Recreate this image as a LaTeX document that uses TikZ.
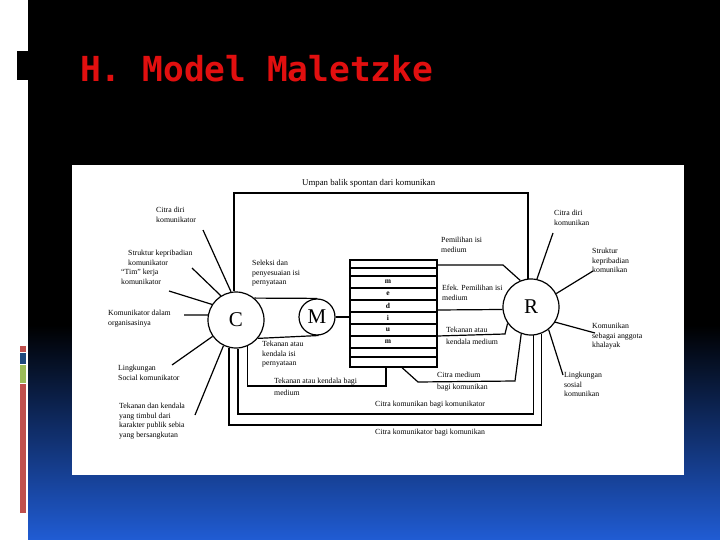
\documentclass[tikz,border=0pt]{standalone}
\usepackage{fontspec}
\setmainfont{Liberation Serif}
\newfontfamily\titlefont{DejaVu Sans Mono}
\definecolor{bgblue}{RGB}{32,92,212}
\definecolor{titlered}{RGB}{225,15,15}
\definecolor{barred}{RGB}{192,80,77}
\definecolor{barblue}{RGB}{31,73,125}
\definecolor{bargreen}{RGB}{155,187,89}
\begin{document}
\begin{tikzpicture}[x=1pt,y=-1pt,
  ln/.style={line width=1.2pt, line join=miter},
  lbl/.style={font=\fontsize{7.8}{9.5}\selectfont, align=left, inner sep=0pt, anchor=north west},
  lblw/.style={font=\fontsize{7.8}{9.5}\selectfont, align=left, inner sep=0pt, anchor=west},
  circ/.style={circle, draw, line width=1.2pt, fill=white, font=\fontsize{21}{21}\selectfont, inner sep=0pt},
  letter/.style={font=\fontsize{7.5}{7.5}\selectfont\bfseries, inner sep=0pt}
]
\useasboundingbox (0,0) rectangle (720,540);
% background
\fill[white] (0,0) rectangle (720,540);
\fill[black] (28,0) rectangle (720,326);
\shade[top color=black, bottom color=bgblue] (28,325) rectangle (720,540);
\fill[black] (17,51) rectangle (28,80);
\fill[barred] (20,346) rectangle (26,352);
\fill[barblue] (20,353) rectangle (26,364);
\fill[bargreen] (20,365) rectangle (26,383);
\fill[barred] (20,384) rectangle (26,513);
% title
\node[anchor=base west, text=titlered, font=\titlefont\bfseries\fontsize{34.5}{34.5}\selectfont, inner sep=0pt] (title) at (80,82) {H. Model Maletzke};
% panel
\fill[white] (72,165) rectangle (684,475);

% main nodes
\node[circ, minimum size=56pt] (C) at (236,320) {C};
\node[circ, minimum size=36pt] (M) at (317,317) {M};
\node[circ, minimum size=56pt] (R) at (531,307) {R};
\node[draw, line width=1.2pt, minimum width=87pt, minimum height=107pt, inner sep=0pt] (med) at (393.5,313.5) {};
\foreach \yy in {268,276,288,300,312,324,336,348,357}
  \draw[ln] (med.west |- 0,\yy) -- (med.east |- 0,\yy);
\foreach \l/\yy/\nm in {m/282/l1, e/294/l2, d/306/l3, i/318/l4, u/330/l5, m/342/l6}
  \node[letter] (\nm) at (388,\yy) {\l};

% coordinates
\coordinate (fb) at (400,193);
\coordinate (pm) at (503,265);
\coordinate (tk) at (505,334);
\coordinate (tb) at (300,386);
\coordinate (cm1) at (418,382);
\coordinate (cm2) at (515,381);
\coordinate (lp1) at (400,414);
\coordinate (lp2) at (400,425);
\coordinate (sp1) at (203,230);
\coordinate (sp2) at (192,268);
\coordinate (sp3) at (169,291);
\coordinate (sp4) at (184,315);
\coordinate (sp5) at (172,365);
\coordinate (sp6) at (195,415);
\coordinate (rs1) at (553,233);
\coordinate (rs2) at (593,271);
\coordinate (rs3) at (595,333);
\coordinate (rs4) at (563,375);

% connectors
\draw[ln] (M.east) -- (med.west |- M.east);
\draw[ln] (C.50) -- (M.north);
\draw[ln] (C.-40) -- (M.-85);
\draw[ln] (C.94) |- (fb) -| (R.96);
\draw[ln] (med.east |- pm) -- (pm) -- (R.112);
\draw[ln] (med.east |- 0,310) -- (R.185);
\draw[ln] (med.east |- 0,336) -- (tk) -- (R.215);
\draw[ln] (C.293) |- (tb) -| (med.south -| 386,0);
\draw[ln] (med.south -| 402,0) -- (cm1) -- (cm2) -- (R.250);
\draw[ln] (C.274) |- (lp1) -| (R.275);
\draw[ln] (C.256) |- (lp2) -| (R.292);
\draw[ln] (sp1) -- (C.100);
\draw[ln] (sp2) -- (C.122);
\draw[ln] (sp3) -- (C.147);
\draw[ln] (sp4) -- (C.170);
\draw[ln] (sp5) -- (C.215);
\draw[ln] (sp6) -- (C.244);
\draw[ln] (rs1) -- (R.78);
\draw[ln] (rs2) -- (R.28);
\draw[ln] (rs3) -- (R.328);
\draw[ln] (rs4) -- (R.308);

% labels
\node[lblw, font=\fontsize{8.8}{10}\selectfont] (t0) at (302,183) {Umpan balik spontan dari komunikan};
\node[lbl] (t1) at (156,207) {Citra diri\\komunikator};
\node[lbl] (t2) at (128,250) {Struktur kepribadian\\komunikator};
\node[lbl] (t3) at (121,269) {“Tim” kerja\\komunikator};
\node[lbl] (t4) at (108,310) {Komunikator dalam\\organisasinya};
\node[lbl] (t5) at (118,365) {Lingkungan\\Social komunikator};
\node[lbl] (t6) at (119,403) {Tekanan dan kendala\\yang timbul dari\\karakter publik sebia\\yang bersangkutan};
\node[lbl] (t7) at (252,260) {Seleksi dan\\penyesuaian isi\\pernyataan};
\node[lbl] (t8) at (262,341) {Tekanan atau\\kendala isi\\pernyataan};
\node[lblw, font=\fontsize{7.8}{11.5}\selectfont] (t9) at (274,387) {Tekanan atau kendala bagi\\medium};
\node[lblw, font=\fontsize{7.8}{12}\selectfont] (t10) at (437,382) {Citra medium\\bagi komunikan};
\node[lblw] (t11) at (375,405) {Citra komunikan bagi komunikator};
\node[lblw] (t12) at (375,433) {Citra komunikator bagi komunikan};
\node[lbl] (t13) at (441,237) {Pemilihan isi\\medium};
\node[lbl] (t14) at (442,285) {Efek. Pemilihan isi\\medium};
\node[lblw, font=\fontsize{7.8}{12}\selectfont] (t15) at (446,336) {Tekanan atau\\kendala medium};
\node[lbl] (t16) at (554,210) {Citra diri\\komunikan};
\node[lbl] (t17) at (592,248) {Struktur\\kepribadian\\komunikan};
\node[lbl] (t18) at (592,323) {Komunikan\\sebagai anggota\\khalayak};
\node[lbl] (t19) at (564,372) {Lingkungan\\sosial\\komunikan};
\end{tikzpicture}
\end{document}
